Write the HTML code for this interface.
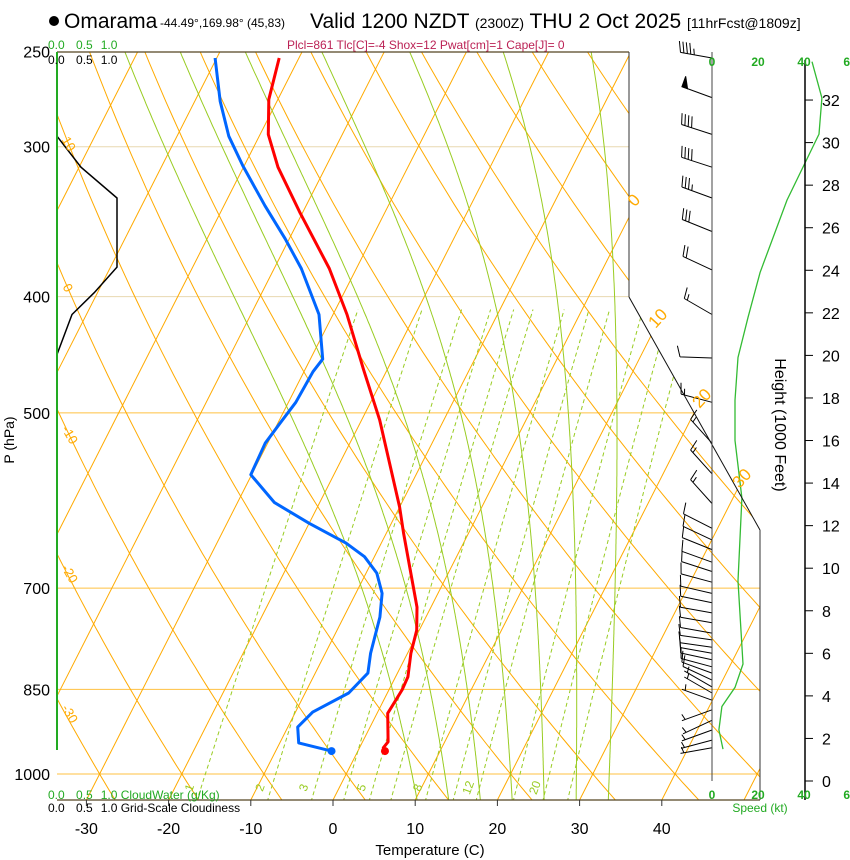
<!DOCTYPE html>
<html><head><meta charset="utf-8"><style>
body{margin:0;background:#fff;width:850px;height:860px;overflow:hidden;font-family:"Liberation Sans",sans-serif}
svg{display:block}
text{font-family:"Liberation Sans",sans-serif}
</style></head><body>
<svg id="chart" width="850" height="860" viewBox="0 0 850 860">
<defs><clipPath id="plotclip"><polygon points="57,52 629,52 629,297 760,530 760,800 57,800"/></clipPath></defs>
<g id="grid" clip-path="url(#plotclip)"></g>
<g id="series"></g>
<g id="winds"></g>
<!-- frame -->
<g fill="none">
<line x1="57" y1="52" x2="629" y2="52" stroke="#554422" stroke-width="1.2"/>
<line x1="629" y1="52" x2="629" y2="297" stroke="#333" stroke-width="1"/>
<line x1="629" y1="297" x2="760" y2="530" stroke="#111" stroke-width="1"/>
<line x1="760" y1="530" x2="760" y2="800" stroke="#333" stroke-width="1"/>
<line x1="57" y1="800" x2="760" y2="800" stroke="#554422" stroke-width="1.2"/>
<line x1="57" y1="52" x2="57" y2="750" stroke="#22aa22" stroke-width="2"/>
<line x1="712" y1="52" x2="712" y2="781" stroke="#444" stroke-width="1"/>
<line x1="805" y1="60" x2="805" y2="800" stroke="#000" stroke-width="1.5"/>
</g>
<g id="axes"></g>
<!-- header -->
<g>
<circle cx="54" cy="21" r="5" fill="#000"/>
<text x="64" y="28" font-size="21">Omarama</text>
<text x="160" y="27" font-size="12">-44.49°,169.98° (45,83)</text>
<text x="310" y="28" font-size="21">Valid 1200 NZDT <tspan font-size="14">(2300Z)</tspan> THU 2 Oct 2025 <tspan font-size="14">[11hrFcst@1809z]</tspan></text>
<text x="48" y="49" font-size="12" fill="#22aa22">0.0 <tspan dx="8">0.5</tspan><tspan dx="8">1.0</tspan></text>
<text x="287" y="49" font-size="12" fill="#bb2255">Plcl=861 Tlc[C]=-4 Shox=12 Pwat[cm]=1 Cape[J]= 0</text>
<text x="48" y="64" font-size="12">0.0 <tspan dx="8">0.5</tspan><tspan dx="8">1.0</tspan></text>
</g>
<g>
<text x="48" y="799" font-size="12" fill="#22aa22">0.0 <tspan dx="8">0.5</tspan><tspan dx="8">1.0</tspan> CloudWater (g/Kg)</text>
<text x="48" y="812" font-size="12">0.0 <tspan dx="8">0.5</tspan><tspan dx="8">1.0</tspan> Grid-Scale Cloudiness</text>
<text x="430" y="855" font-size="15" text-anchor="middle">Temperature (C)</text>
<text x="760" y="812" font-size="12" fill="#22aa22" text-anchor="middle">Speed (kt)</text>
<text transform="translate(14,440) rotate(-90)" font-size="14" text-anchor="middle">P (hPa)</text>
<text transform="translate(775,425) rotate(90)" font-size="16" text-anchor="middle">Height (1000 Feet)</text>
</g>
</svg>
<script>
const NS="http://www.w3.org/2000/svg";
// ---- data ----
const pLevels=[250,300,400,500,700,850,1000];
const tTicks=[-30,-20,-10,0,10,20,30,40];
const tempP=[253,274,293,312,340,379,414,460,507,599,630,726,759,793,830,851,890,940,951,957];
const tempT=[-52.4,-51.1,-49.0,-45.8,-40.4,-33.3,-28.3,-22.9,-17.8,-10.0,-7.9,-1.7,-0.3,0.4,1.5,1.6,1.3,3.1,2.9,3.3];
const dewP=[253,275,294,311,336,358,379,414,451,462,490,509,530,563,594,618,642,659,680,707,740,793,824,856,888,914,942,957];
const dewT=[-60.2,-56.9,-53.7,-50.2,-45.0,-40.5,-36.7,-31.7,-28.5,-28.9,-29.1,-29.7,-30.3,-30.1,-25.5,-20.0,-14.3,-11.2,-8.7,-6.8,-5.6,-4.5,-3.6,-4.7,-7.9,-8.8,-7.7,-3.2];
const cldP=[294,312,331,378,397,414,447];
const cldV=[0,0.4,1.0,1.0,0.62,0.25,0];
const spdH=[33.8,32.1,30.4,27.3,23.9,21.8,19.9,17.9,16.0,13.3,9.4,5.5,4.4,3.5,2.4,1.5];
const spdV=[43.5,47.8,46.5,32.6,20.9,15.7,11.3,10.0,10.0,13.0,11.3,13.5,10.0,4.3,3.0,4.8];
const barbP=[253,273,293,312,331,353,380,414,450,490,530,562,595,624,638,650,666,678,692,707,720,734,748,763,773,784,793,803,814,824,835,846,856,868,884,902,919,937,951];
const barbDir=[280,290,288,288,290,292,295,300,272,285,318,318,318,297,295,292,290,288,285,283,282,280,280,280,278,278,280,282,285,290,295,300,300,290,250,245,250,255,260];
const barbSpd=[45,50,40,40,35,30,20,15,10,15,15,15,15,10,10,10,10,10,10,10,10,10,10,10,10,10,10,10,10,10,10,5,5,5,5,5,5,5,5];
const isoT=[-120,-110,-100,-90,-80,-70,-60,-50,-40,-30,-20,-10,0,10,20,30,40,50];
const dryTheta=[-40,-30,-20,-10,0,10,20,30,40,50,60,70,80,90,100,110,120,130,140,150,160];
const moistThw=[8,12,16,20,24,28,32];
const mixW=[1,2,3,4,5,6,8,10,12,16,20,24];
const mixLabels=["1","2","3","5","8","12","20"];
const heightTicks=[0,2,4,6,8,10,12,14,16,18,20,22,24,26,28,30,32];
const speedTicks=[0,20,40,60];
// ---- axis functions ----
function Y(p){return 774-521*Math.log(1000/p);}
function X(T,p){return 333+8.22*T+0.508*(800-Y(p));}
function Xs(v){return 712+2.3*v;}
function Yh(h){return 781-21.28*h;}
function Xc(v){return 57+60*v;}
function mk(tag,attrs,parent){const e=document.createElementNS(NS,tag);for(const k in attrs)e.setAttribute(k,attrs[k]);parent.appendChild(e);return e;}
const grid=document.getElementById('grid'),series=document.getElementById('series'),winds=document.getElementById('winds'),axes=document.getElementById('axes');
function pathFrom(pts){return pts.map((q,i)=>(i?'L':'M')+q[0].toFixed(1)+','+q[1].toFixed(1)).join('');}
// isobars
pLevels.forEach(p=>{
 const l=mk('line',{x1:57,x2:(p>=700?760:(p>=500?700:629)),y1:Y(p),y2:Y(p),stroke:(p>=500?'#ffc040':'#e8d8b0'),'stroke-width':1},grid);
 
 
});
// isotherms
isoT.forEach(t=>{
 const l=mk('line',{x1:X(t,1055),y1:Y(1055),x2:X(t,245),y2:Y(245),stroke:'#ffaa00','stroke-width':1},grid);
 
 
});
// dry adiabats
dryTheta.forEach(th=>{
 const pts=[];for(let p=1055;p>=245;p-=10){const T=(th+273.15)*Math.pow(p/1000,0.2857)-273.15;pts.push([X(T,p),Y(p)]);}
 const e=mk('path',{d:pathFrom(pts),fill:'none',stroke:'#ffaa00','stroke-width':1},grid);
 
 
});
// moist adiabats
function es(T){return 6.112*Math.exp(17.67*T/(T+243.5));}
function dTdp(T,p){const Tk=T+273.15,e=es(T),rs=0.622*e/(p-e);return (287*Tk+2.5e6*rs)/(p*(1004+2.5e6*2.5e6*rs*0.622/(287*Tk*Tk)));}
moistThw.forEach(tw=>{
 let pts=[];let T=tw;
 for(let p=1000;p>=245;p-=2){pts.push([X(T,p),Y(p)]);T-=2*dTdp(T,p);}
 let down=[];T=tw;for(let p=1000;p<=1056;p+=2){down.unshift([X(T,p),Y(p)]);T+=2*dTdp(T,p);}
 const e=mk('path',{d:pathFrom(down.concat(pts)),fill:'none',stroke:'#99cc22','stroke-width':1},grid);
 
 
});
// mixing ratio
mixW.forEach(w=>{
 const pts=[];for(let p=1055;p>=400;p-=15){const e=w*p/(622+w),l=Math.log(e/6.112),Td=243.5*l/(17.67-l);pts.push([X(Td,p),Y(p)]);}
 const e=mk('path',{d:pathFrom(pts),fill:'none',stroke:'#99cc22','stroke-width':1,'stroke-dasharray':'4,3'},grid);
 
 
});
mixLabels.forEach(s=>{
 const w=+s,p=1038,e=w*p/(622+w),l=Math.log(e/6.112),Td=243.5*l/(17.67-l);
 const x=X(Td,p)-6,y=789;
 const t=mk('text',{x:0,y:0,transform:'translate('+x+','+y+') rotate(-70)','font-size':12,fill:'#99cc22','text-anchor':'middle'},grid);
 t.textContent=s;
 
 
});
// isotherm labels
[["10",65,146],["0",64,290],["-10",66,437],["-20",66,576],["-30",66,716]].forEach(a=>{
 const t=mk('text',{transform:'translate('+a[1]+','+a[2]+') rotate(60)','font-size':13,fill:'#ffaa00','text-anchor':'middle'},axes);
 t.textContent=a[0];
 
 
});
[["0",638,204],["10",662,322],["20",706,402],["30",746,482]].forEach(a=>{
 const t=mk('text',{transform:'translate('+a[1]+','+a[2]+') rotate(-48)','font-size':17,fill:'#ffaa00','text-anchor':'middle'},axes);
 t.textContent=a[0];
 
 
});
// pressure labels
pLevels.forEach(p=>{
 const t=mk('text',{x:50,y:Y(p)+6,'font-size':16,'text-anchor':'end'},axes);
 t.textContent=p;
 
 
});
// temperature ticks
tTicks.forEach(T=>{
 const x=333+8.22*T;
 const l=mk('line',{x1:x,x2:x,y1:800,y2:806,stroke:'#333'},axes);
 
 
 const t=mk('text',{x:x,y:834,'font-size':16,'text-anchor':'middle'},axes);
 t.textContent=T;
 
 
});
// speed ticks
speedTicks.forEach(v=>{
 [66,799].forEach(y=>{
  const t=mk('text',{x:Xs(v),y:y,'font-size':12,'font-weight':'bold',fill:'#22aa22','text-anchor':'middle'},axes);
  t.textContent=v;
  
  
 });
});
// height ticks
heightTicks.forEach(h=>{
 const l=mk('line',{x1:805,x2:813,y1:Yh(h),y2:Yh(h),stroke:'#000'},axes);
 
 
 const t=mk('text',{x:822,y:Yh(h)+6,'font-size':16},axes);
 t.textContent=h;
 
 
});
// cloudiness
const cl=mk('path',{d:pathFrom(cldP.map((p,i)=>[Xc(cldV[i]),Y(p)])),fill:'none',stroke:'#000','stroke-width':1.5},series);


// temperature / dewpoint
const tl=mk('path',{d:pathFrom(tempP.map((p,i)=>[X(tempT[i],p),Y(p)])),fill:'none',stroke:'#ff0000','stroke-width':3,'stroke-linejoin':'round'},series);


const dl=mk('path',{d:pathFrom(dewP.map((p,i)=>[X(dewT[i],p),Y(p)])),fill:'none',stroke:'#0066ff','stroke-width':3,'stroke-linejoin':'round'},series);


const tn=tempP.length-1,dn=dewP.length-1;
const td=mk('circle',{cx:X(tempT[tn],tempP[tn]),cy:Y(tempP[tn]),r:4,fill:'#ff0000'},series);


const dd=mk('circle',{cx:X(dewT[dn],dewP[dn]),cy:Y(dewP[dn]),r:4,fill:'#0066ff'},series);


// wind speed profile
const sp=mk('path',{d:pathFrom(spdH.map((h,i)=>[Xs(spdV[i]),Yh(h)])),fill:'none',stroke:'#33bb33','stroke-width':1.3},series);


// barbs
barbP.forEach((p,i)=>{
 const bx=712,by=Y(p),a=barbDir[i]*Math.PI/180,ux=Math.sin(a),uy=-Math.cos(a),L=32;
 const px=-uy,py=ux;
 let d='M'+bx+','+by.toFixed(1)+'L'+(bx+ux*L).toFixed(1)+','+(by+uy*L).toFixed(1);
 let s=barbSpd[i],pos=L,g=mk('g',{},winds);
 
 
 let fill='';
 while(s>=50){const x0=bx+ux*pos,y0=by+uy*pos,x1=bx+ux*(pos-6),y1=by+uy*(pos-6);
  fill+='M'+x0+','+y0+'L'+(x0+px*11)+','+(y0+py*11)+'L'+x1+','+y1+'Z';s-=50;pos-=8;}
 while(s>=10){const x0=bx+ux*pos,y0=by+uy*pos;d+='M'+x0.toFixed(1)+','+y0.toFixed(1)+'L'+(x0+px*11+ux*3).toFixed(1)+','+(y0+py*11+uy*3).toFixed(1);s-=10;pos-=3.5;}
 if(s>=5){if(pos===L)pos-=3.5;const x0=bx+ux*pos,y0=by+uy*pos;d+='M'+x0.toFixed(1)+','+y0.toFixed(1)+'L'+(x0+px*6+ux*1.5).toFixed(1)+','+(y0+py*6+uy*1.5).toFixed(1);}
 mk('path',{d:d,fill:'none',stroke:'#000','stroke-width':1},g);
 if(fill)mk('path',{d:fill,fill:'#000',stroke:'#000'},g);
});
</script>
</body></html>
